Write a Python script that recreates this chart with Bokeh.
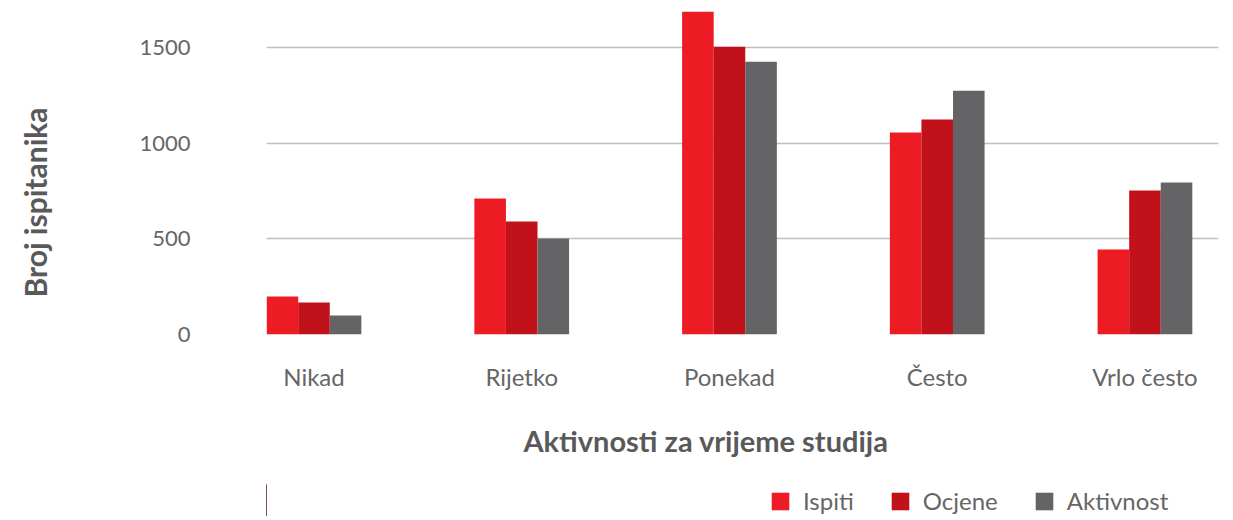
from bokeh.plotting import figure
from bokeh.layouts import column
from bokeh.models import (ColumnDataSource, Range1d, FixedTicker, Legend, LegendItem,
                          Title, LinearAxis)
from bokeh.transform import dodge
from bokeh.embed import file_html
from bokeh.resources import INLINE

# ---- data ----
categories = ["Nikad", "Rijetko", "Ponekad", "Često", "Vrlo često"]
series = ["Ispiti", "Ocjene", "Aktivnost"]
ispiti = [199, 711, 1688, 1056, 444]
ocjene = [167, 591, 1505, 1124, 753]
aktivnost = [99, 502, 1427, 1275, 795]
y_ticks = [0, 500, 1000, 1500]
x_title = "Aktivnosti za vrijeme studija"
y_title = "Broj ispitanika"

# ---- styles ----
colors = ["#ED1C24", "#C1121C", "#646466"]
FONT = "Lato"
LABEL_COLOR = "#666666"
TITLE_COLOR = "#595959"
X_START, X_END = -0.2286, 4.354
Y_END = 1700
BAR_W = 0.152

x_pos = list(range(len(categories)))
source = ColumnDataSource(dict(x=x_pos, Ispiti=ispiti, Ocjene=ocjene, Aktivnost=aktivnost))

p = figure(width=1233, height=488, frame_width=952, frame_height=325,
           x_range=Range1d(X_START, X_END), y_range=Range1d(0, Y_END),
           output_backend="svg", toolbar_location=None,
           min_border_left=266, min_border_right=15, min_border_top=9, min_border_bottom=0)
p.outline_line_color = None
p.background_fill_color = "white"
p.border_fill_color = "white"

offsets = [-BAR_W, 0, BAR_W]
for name, color, off in zip(series, colors, offsets):
    p.vbar(x=dodge("x", off), top=name, width=BAR_W, source=source,
           fill_color=color, line_color=None)

# x axis
p.xaxis.ticker = FixedTicker(ticks=x_pos)
p.xaxis.major_label_overrides = {i: c for i, c in enumerate(categories)}
p.xaxis.axis_line_color = None
p.xaxis.major_tick_line_color = None
p.xaxis.minor_tick_line_color = None
p.xaxis.major_tick_out = 0
p.xaxis.major_label_standoff = 27
p.xaxis.major_label_text_font = FONT
p.xaxis.major_label_text_font_size = "24px"
p.xaxis.major_label_text_color = LABEL_COLOR

# y axis
p.yaxis.ticker = FixedTicker(ticks=y_ticks)
p.yaxis.axis_line_color = None
p.yaxis.major_tick_line_color = None
p.yaxis.minor_tick_line_color = None
p.yaxis.major_tick_out = 0
p.yaxis.major_label_standoff = 76
p.yaxis.major_label_text_font = FONT
p.yaxis.major_label_text_font_size = "22px"
p.yaxis.major_label_text_color = LABEL_COLOR

# invisible spacer axis between the tick labels and the y title
spacer = LinearAxis(ticker=FixedTicker(ticks=[0]), major_label_overrides={0: ""},
                    axis_line_color=None, major_tick_line_color=None,
                    minor_tick_line_color=None, major_tick_in=0, major_tick_out=78,
                    minor_tick_out=0, major_label_standoff=0)
p.add_layout(spacer, "left")

# y axis title
p.add_layout(Title(text=y_title, align="left", offset=37, standoff=10,
                   vertical_align="middle", text_font=FONT, text_font_style="bold",
                   text_font_size="30px", text_color=TITLE_COLOR), "left")

# grid
p.xgrid.visible = False
p.ygrid.ticker = FixedTicker(ticks=y_ticks)
p.ygrid.grid_line_color = "#BFBFBF"
p.ygrid.grid_line_width = 1.5

# x axis title
p.add_layout(Title(text=x_title, align="left", offset=257, standoff=54,
                   vertical_align="bottom", text_font=FONT, text_font_style="bold",
                   text_font_size="29px", text_color=TITLE_COLOR), "below")

# ---- legend strip (separate figure under the chart) ----
lg = figure(width=1233, height=32, x_range=Range1d(100, 101), y_range=Range1d(0, 1),
            output_backend="svg", toolbar_location=None,
            min_border_left=0, min_border_right=0, min_border_top=0, min_border_bottom=0,
            x_axis_location=None, y_axis_location=None)
lg.outline_line_color = None
lg.grid.visible = False
lg.background_fill_color = "white"
lg.border_fill_color = "white"
legend_renderers = []
for name, color, off in zip(series, colors, offsets):
    r = lg.vbar(x=dodge("x", off), top=name, width=BAR_W, source=source,
                fill_color=color, line_color=None)
    legend_renderers.append(r)

legend = Legend(items=[LegendItem(label=s, renderers=[r])
                       for s, r in zip(series, legend_renderers)],
                orientation="horizontal", location=(503, 1), margin=0, padding=0,
                border_line_color=None, background_fill_alpha=0,
                glyph_width=22, glyph_height=22, label_standoff=12, spacing=35,
                label_text_font=FONT, label_text_font_size="24px",
                label_text_color=LABEL_COLOR)
lg.add_layout(legend, "center")

layout = column(p, lg, spacing=0)
open("out.html", "w").write(file_html(layout, INLINE))
